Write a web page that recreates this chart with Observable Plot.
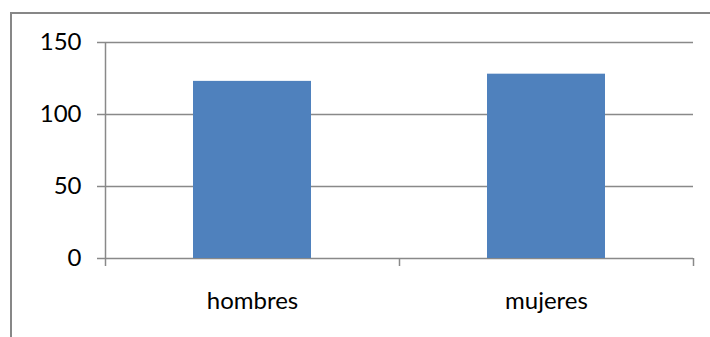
<!DOCTYPE html>
<html>
<head>
<meta charset="utf-8">
<script src="https://cdn.jsdelivr.net/npm/d3@7"></script>
<script src="https://cdn.jsdelivr.net/npm/@observablehq/plot@0.6"></script>
<style>
  html, body { margin: 0; padding: 0; background: #fff; overflow: hidden; }
  #wrap { position: relative; width: 710px; height: 337px; overflow: hidden; }
  #border { position: absolute; left: 10px; top: 12px; width: 720px; height: 340px; border: 2px solid #878787; box-sizing: border-box; }
  #chart { position: absolute; left: 0; top: 0; }
</style>
</head>
<body>
<div id="wrap"><div id="border"></div><div id="chart"></div></div>
<script>
const categories = ["hombres", "mujeres"];
const values = [123, 128];
const yTicks = [0, 50, 100, 150];

const data = categories.map((c, i) => ({category: c, value: values[i]}));

const W = 710, H = 337, ML = 105, MR = 17, MT = 42, MB = 79;
const half = (W - ML - MR) / categories.length / 2;
const grid = "#898989";

const plot = Plot.plot({
  width: W,
  height: H,
  marginLeft: ML,
  marginRight: MR,
  marginTop: MT,
  marginBottom: MB,
  style: {fontFamily: "Lato, 'Open Sans', sans-serif", fontSize: "24px", color: "#000", background: "transparent"},
  x: {domain: categories, paddingInner: 0.6, paddingOuter: 0.3, label: null},
  y: {domain: [0, 150], label: null},
  marks: [
    Plot.gridY(yTicks, {stroke: grid, strokeOpacity: 1, strokeWidth: 1.5}),
    Plot.barY(data, {x: "category", y: "value", fill: "#4F81BD"}),
    Plot.ruleX([categories[0]], {x: d => d, y1: 150, y2: 0, dx: -half, insetBottom: -8, stroke: grid, strokeWidth: 1.5}),
    Plot.ruleX(categories, {x: d => d, y1: 0, y2: 0, dx: half, insetBottom: -8, stroke: grid, strokeWidth: 1.5}),
    Plot.axisY(yTicks, {tickSize: 8, tickPadding: 16, stroke: grid, strokeWidth: 1.5, fill: "#000", label: null}),
    Plot.axisX({tickSize: 0, tickPadding: 33, fill: "#000", label: null})
  ]
});
document.getElementById("chart").appendChild(plot);
</script>
</body>
</html>
